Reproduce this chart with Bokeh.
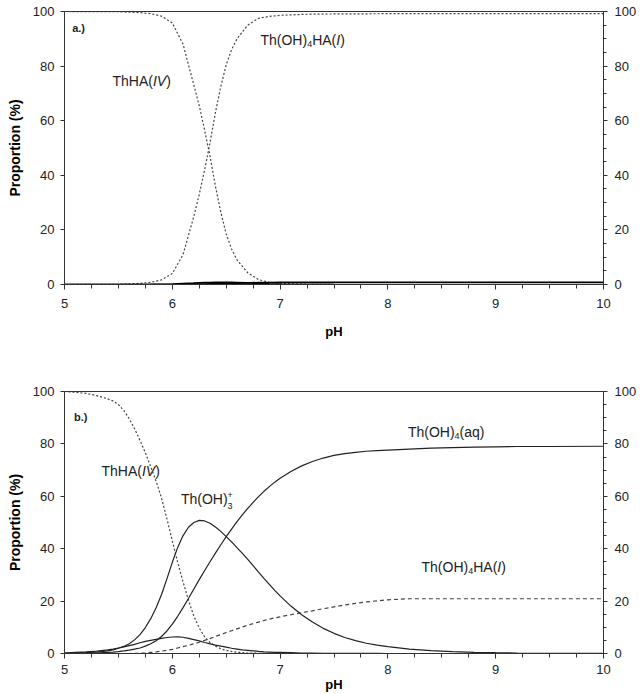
from bokeh.plotting import figure
from bokeh.models import Range1d, LinearAxis, FixedTicker
from bokeh.layouts import column
from bokeh.embed import file_html
from bokeh.resources import INLINE
from bokeh.core.properties import value

# ---------------- data ----------------
x_ticks = [5, 6, 7, 8, 9, 10]
x_minor = [5 + 0.25 * i for i in range(21)]
y_ticks = [0, 20, 40, 60, 80, 100]
y_minor = [5 * i for i in range(21)]

# panel a.)
ph_a = [5.0, 5.5, 5.7, 5.8, 5.9, 6.0, 6.1, 6.2, 6.25, 6.3, 6.35, 6.4, 6.45, 6.5,
        6.55, 6.6, 6.7, 6.8, 6.9, 7.0, 7.25, 7.5, 8.0, 9.0, 10.0]
thha_a = [100, 99.9, 99.6, 99.2, 98.3, 95.8, 88, 73, 65.5, 56.5, 47, 36, 26.5, 18.5,
          13, 9, 4.3, 1.8, 0.8, 0.4, 0.1, 0, 0, 0, 0]
thoh4ha_a = [0, 0.1, 0.4, 0.8, 1.7, 4.0, 11, 25, 33, 42, 52, 63, 72.5, 80.5,
             86, 90, 95, 97.5, 98.2, 98.6, 99.0, 99.1, 99.2, 99.2, 99.2]
thoh3_a = [0, 0, 0.02, 0.05, 0.1, 0.2, 0.35, 0.5, 0.6, 0.7, 0.75, 0.8, 0.82, 0.82,
           0.8, 0.75, 0.6, 0.45, 0.3, 0.2, 0.08, 0.03, 0, 0, 0]
thoh4_a = [0, 0, 0, 0, 0, 0.02, 0.05, 0.1, 0.15, 0.2, 0.25, 0.3, 0.35, 0.4,
           0.45, 0.5, 0.6, 0.7, 0.75, 0.8, 0.82, 0.83, 0.83, 0.83, 0.83]

# panel b.)
ph_b = [5.0, 5.1, 5.2, 5.3, 5.4,
        5.45, 5.5, 5.55, 5.6, 5.65, 5.7, 5.75, 5.8, 5.85, 5.9, 5.95, 6.0, 6.05, 6.1, 6.15,
        6.2, 6.25, 6.3, 6.35, 6.4, 6.45, 6.5, 6.55, 6.6, 6.65, 6.7, 6.75, 6.8, 6.85, 6.9,
        6.95, 7.0,
        7.1, 7.2, 7.3, 7.4, 7.5, 7.6, 7.7, 7.8, 7.9, 8.0,
        8.2, 8.4, 8.6, 8.8, 9.0, 9.2, 9.5, 10.0]
thha_b = [100, 99.7, 99.3, 98.4, 97.2,
          96.4, 95.0, 92.8, 89.6, 85.8, 81.4, 76.6, 71.3, 65.7, 59.3, 51.5, 43.0, 34.8, 27.3, 20.3,
          14.3, 9.7, 6.3, 4.2, 2.8, 1.8, 1.2, 0.8, 0.5, 0.35, 0.2, 0.15, 0.1, 0.07, 0.04,
          0.02, 0,
          0, 0, 0, 0, 0, 0, 0, 0, 0, 0,
          0, 0, 0, 0, 0, 0, 0, 0]
thoh3_b = [0.05, 0.15, 0.3, 0.55, 1.0,
           1.4, 2.0, 2.7, 3.7, 5.2, 7.2, 9.9, 13.3, 17.5, 22.5, 28.5, 34.8, 40.5, 45.0, 48.2,
           50.0, 50.8, 50.6, 49.7, 48.3, 46.6, 44.6, 42.6, 40.4, 38.2, 35.9, 33.5, 31.1, 28.7, 26.4,
           24.1, 22.0,
           18.1, 14.8, 12.0, 9.6, 7.7, 6.1, 4.9, 3.9, 3.2, 2.6,
           1.7, 1.1, 0.7, 0.45, 0.3, 0.18, 0.08, 0.02]
thoh4_b = [0.02, 0.05, 0.1, 0.2, 0.4,
           0.55, 0.75, 1.0, 1.3, 1.7, 2.1, 2.8, 3.7, 4.9, 6.5, 8.6, 11.2, 14.2, 17.5, 21.0,
           24.6, 28.2, 31.7, 35.0, 38.3, 41.5, 44.6, 47.5, 50.3, 52.9, 55.4, 57.7, 59.9, 61.9, 63.7,
           65.4, 66.9,
           69.5, 71.6, 73.3, 74.6, 75.6, 76.3, 76.8, 77.2, 77.4, 77.6,
           78.0, 78.4, 78.6, 78.8, 78.9, 79.0, 79.0, 79.1]
thoh4ha_b = [0, 0, 0, 0, 0,
             0, 0, 0, 0, 0.05, 0.1, 0.2, 0.4, 0.6, 0.9, 1.2, 1.6, 2.1, 2.6, 3.1,
             3.7, 4.3, 5.0, 5.7, 6.5, 7.2, 8.0, 8.7, 9.4, 10.1, 10.8, 11.4, 12.0, 12.6, 13.1,
             13.6, 14.0,
             14.8, 15.6, 16.3, 17.1, 17.8, 18.5, 19.1, 19.7, 20.1, 20.5,
             20.9, 20.9, 20.9, 20.9, 20.9, 20.9, 20.9, 20.9]
thoh2_b = [0.2, 0.4, 0.6, 0.9, 1.4,
           1.7, 2.1, 2.5, 3.0, 3.5, 4.1, 4.6, 5.0, 5.4, 5.8, 6.1, 6.3, 6.35, 6.2, 5.8,
           5.3, 4.8, 4.2, 3.7, 3.2, 2.8, 2.4, 2.0, 1.7, 1.4, 1.2, 1.0, 0.8, 0.65, 0.55,
           0.45, 0.4,
           0.3, 0.2, 0.15, 0.1, 0.07, 0.05, 0.03, 0.02, 0.01, 0,
           0, 0, 0, 0, 0, 0, 0, 0]

# ---------------- styling ----------------
FONT = "Liberation Sans"
INK = "#222222"
AXIS = "#333333"

CW = {"T": 611, "h": 556, "H": 722, "A": 667, "(": 333, ")": 333, "O": 778,
      "I": 278, "V": 667, "a": 556, "q": 556, "+": 584, ".": 278, "b": 556}


def tw(s, size):
    return sum(CW.get(c, 556) for c in s) / 1000.0 * size


def rich(p, x, y, parts):
    off = 0.0
    for s, size, style, dy in parts:
        p.text(x=[x], y=[y], text=[s], x_offset=off, y_offset=dy,
               text_font=value(FONT), text_font_size=f"{size}px",
               text_font_style=style, text_baseline="middle", text_align="left",
               text_color=INK)
        if s != "+":
            off += tw(s, size)


def make_fig(height, top, bottom, left, right, xstand, label_standoff):
    p = figure(width=643, height=height, output_backend="svg", toolbar_location=None,
               x_range=Range1d(5, 10), y_range=Range1d(0, 100),
               min_border_top=top, min_border_bottom=bottom,
               min_border_left=left, min_border_right=right)
    p.xgrid.visible = False
    p.ygrid.visible = False
    p.outline_line_color = AXIS
    p.outline_line_width = 1
    p.background_fill_color = "white"
    p.border_fill_color = "white"

    xa = p.xaxis[0]
    xa.ticker = FixedTicker(ticks=x_ticks, minor_ticks=x_minor)
    xa.major_tick_out = 5
    xa.major_tick_in = 0
    xa.minor_tick_out = 4
    xa.minor_tick_in = 0
    xa.major_label_standoff = xstand
    xa.major_label_text_font = FONT
    xa.major_label_text_font_size = "13px"
    xa.major_label_text_color = INK
    xa.axis_line_color = AXIS
    xa.major_tick_line_color = AXIS
    xa.minor_tick_line_color = AXIS
    xa.axis_label = "pH"
    xa.axis_label_text_font = FONT
    xa.axis_label_text_font_size = "13px"
    xa.axis_label_text_font_style = "bold"
    xa.axis_label_text_color = "black"
    xa.axis_label_standoff = label_standoff

    ya = p.yaxis[0]
    ya.ticker = FixedTicker(ticks=y_ticks, minor_ticks=[])
    ya.major_tick_out = 4
    ya.major_tick_in = 0
    ya.major_label_standoff = 6
    ya.major_label_text_font = FONT
    ya.major_label_text_font_size = "13px"
    ya.major_label_text_color = INK
    ya.axis_line_color = AXIS
    ya.major_tick_line_color = AXIS
    ya.axis_label = "Proportion (%)"
    ya.axis_label_text_font = FONT
    ya.axis_label_text_font_size = "14px"
    ya.axis_label_text_font_style = "bold"
    ya.axis_label_text_color = "black"
    ya.axis_label_standoff = 7

    ra = LinearAxis(ticker=FixedTicker(ticks=y_ticks, minor_ticks=y_minor))
    ra.major_tick_out = 4
    ra.major_tick_in = 0
    ra.minor_tick_out = 3
    ra.minor_tick_in = 0
    ra.major_label_standoff = 7
    ra.major_label_text_font = FONT
    ra.major_label_text_font_size = "13px"
    ra.major_label_text_color = INK
    ra.axis_line_color = AXIS
    ra.major_tick_line_color = AXIS
    ra.minor_tick_line_color = AXIS
    p.add_layout(ra, "right")
    return p


# ---------------- panel a ----------------
pa = make_fig(370, 11, 86, 64, 40, 9, 13)
pa.line(ph_a, thha_a, line_color="#444444", line_width=1.2, line_dash="2 2")
pa.line(ph_a, thoh4ha_a, line_color="#444444", line_width=1.2, line_dash="2 2")
pa.line(ph_a, thoh3_a, line_color="black", line_width=1.6)
pa.line(ph_a, thoh4_a, line_color="black", line_width=1.6)

rich(pa, 5.071, 93.8, [("a.)", 11, "bold", 0)])
rich(pa, 5.445, 74.4, [("ThHA(", 14, "normal", 0), ("IV", 14, "italic", 0),
                       (")", 14, "normal", 0)])
rich(pa, 6.818, 89.4, [("Th(OH)", 14, "normal", 0), ("4", 9, "normal", 4),
                       ("HA(", 14, "normal", 0), ("I", 14, "italic", 0),
                       (")", 14, "normal", 0)])

# ---------------- panel b ----------------
pb = make_fig(324, 21, 41, 62, 38, 6, 0)
pb.line(ph_b, thha_b, line_color="#444444", line_width=1.2, line_dash="2 2")
pb.line(ph_b, thoh4ha_b, line_color="#444444", line_width=1.2, line_dash="4 3")
pb.line(ph_b, thoh3_b, line_color=INK, line_width=1.2)
pb.line(ph_b, thoh4_b, line_color=INK, line_width=1.2)
pb.line(ph_b, thoh2_b, line_color=INK, line_width=1.2)

rich(pb, 5.089, 90.2, [("b.)", 11, "bold", 0)])
rich(pb, 5.343, 69.5, [("ThHA(", 14, "normal", 0), ("IV", 14, "italic", 0),
                       (")", 14, "normal", 0)])
rich(pb, 6.080, 59.0, [("Th(OH)", 14, "normal", 0), ("+", 9, "normal", -4),
                       ("3", 9, "normal", 7)])
rich(pb, 8.186, 84.5, [("Th(OH)", 14, "normal", 0), ("4", 9, "normal", 4),
                       ("(aq)", 14, "normal", 0)])
rich(pb, 8.312, 32.9, [("Th(OH)", 14, "normal", 0), ("4", 9, "normal", 4),
                       ("HA(", 14, "normal", 0), ("I", 14, "italic", 0),
                       (")", 14, "normal", 0)])

layout = column(pa, pb, spacing=0)
open("out.html", "w").write(file_html(layout, INLINE))
